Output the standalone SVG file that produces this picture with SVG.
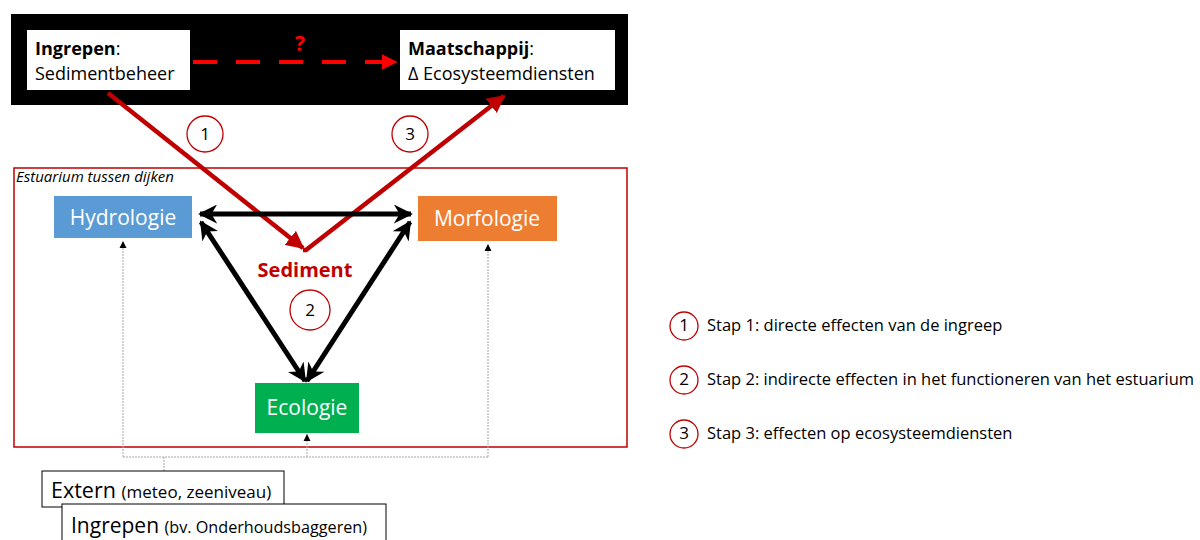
<svg xmlns="http://www.w3.org/2000/svg" width="1200" height="540" viewBox="0 0 1200 540">
<style>
text{font-family:"Open Sans","Liberation Sans",Arial,sans-serif}
.box{fill:#fff;stroke:#000;stroke-width:1}
.num{font-size:17px;fill:#000;text-anchor:middle}
.circ{fill:#fff;stroke:#c00000;stroke-width:1.3}
.leg{font-size:16.5px;fill:#000}
.node{font-size:21px;fill:#fff;text-anchor:middle}
.gray{fill:none;stroke:#a6a6a6;stroke-width:1;stroke-dasharray:2 1}
</style>
<defs>
<marker id="ahRed" viewBox="0 0 10 10" refX="9" refY="5" markerWidth="4" markerHeight="4" orient="auto" markerUnits="strokeWidth"><path d="M0,0L10,5L0,10z" fill="#c00000"/></marker>
<marker id="ahRedD" viewBox="0 0 10 10" refX="9" refY="5" markerWidth="4" markerHeight="4" orient="auto" markerUnits="strokeWidth"><path d="M0,0L10,5L0,10z" fill="#ff0000"/></marker>
<marker id="ahBlk" viewBox="0 0 10 10" refX="9" refY="5" markerWidth="3.8" markerHeight="3.8" orient="auto-start-reverse" markerUnits="strokeWidth"><path d="M0,0L10,5L0,10L3,5z" fill="#000"/></marker>
</defs>

<rect x="11" y="14" width="617" height="91" fill="#000"/>

<g id="estuarium">
<rect x="14" y="168" width="613" height="279" fill="none" stroke="#c00000" stroke-width="1.5"/>
<text x="16" y="182" font-size="15" font-style="italic" fill="#000">Estuarium tussen dijken</text>
</g>

<g id="connectors">
<path class="gray" d="M164,471V457M123,457H488M123,457V241M488,457V244M307,457V434"/>
<path d="M123,241l-3.5,7h7z M488,244l-3.5,7h7z M307,434l-3.5,7h7z" fill="#000"/>
<line x1="193" y1="62" x2="396" y2="62" stroke="#ff0000" stroke-width="4" stroke-dasharray="24 19" marker-end="url(#ahRedD)"/>
<polyline points="108,93 303,248" fill="none" stroke="#c00000" stroke-width="4.5" marker-end="url(#ahRed)"/>
<polyline points="303,250 306,250 504,96" fill="none" stroke="#c00000" stroke-width="4.5" marker-end="url(#ahRed)"/>
<line x1="200" y1="214" x2="411" y2="214" stroke="#000" stroke-width="5" marker-start="url(#ahBlk)" marker-end="url(#ahBlk)"/>
<line x1="201" y1="222" x2="305" y2="381" stroke="#000" stroke-width="5" marker-start="url(#ahBlk)" marker-end="url(#ahBlk)"/>
<line x1="410" y1="222" x2="307" y2="381" stroke="#000" stroke-width="5" marker-start="url(#ahBlk)" marker-end="url(#ahBlk)"/>
</g>

<text x="300" y="51" font-size="21" font-weight="bold" fill="#ff0000" text-anchor="middle">?</text>

<g id="ingrepen-top">
<rect x="27" y="30" width="163" height="60" fill="#fff"/>
<text x="35" y="55" font-size="18" fill="#000"><tspan font-weight="bold">Ingrepen</tspan>:</text>
<text x="35" y="80" font-size="18" fill="#000">Sedimentbeheer</text>
</g>

<g id="maatschappij">
<rect x="400" y="30" width="215" height="60" fill="#fff"/>
<text x="408" y="55" font-size="18" fill="#000"><tspan font-weight="bold">Maatschappij</tspan>:</text>
<text x="408" y="80" font-size="18" fill="#000">Δ Ecosysteemdiensten</text>
</g>

<g id="hydrologie">
<rect x="54" y="196" width="138" height="42" fill="#5b9bd5"/>
<text class="node" x="123" y="225">Hydrologie</text>
</g>
<g id="morfologie">
<rect x="418" y="196" width="139" height="45" fill="#ed7d31"/>
<text class="node" x="487" y="226">Morfologie</text>
</g>
<g id="ecologie">
<rect x="255" y="383" width="104" height="50" fill="#00b050"/>
<text class="node" x="307" y="415">Ecologie</text>
</g>

<g id="sediment">
<text x="305" y="277" font-size="20" font-weight="bold" fill="#c00000" text-anchor="middle">Sediment</text>
</g>

<g id="step1"><circle class="circ" cx="205" cy="134" r="18"/><text class="num" x="205" y="140">1</text></g>
<g id="step3"><circle class="circ" cx="410" cy="134" r="18"/><text class="num" x="410" y="140">3</text></g>
<g id="step2"><circle class="circ" cx="310" cy="310" r="20"/><text class="num" x="310" y="316">2</text></g>

<g id="extern">
<rect class="box" x="42" y="471" width="242" height="36"/>
<text x="51" y="498" font-size="21.5" fill="#000">Extern <tspan font-size="17">(meteo, zeeniveau)</tspan></text>
</g>
<g id="ingrepen-bottom">
<rect class="box" x="62" y="504" width="324" height="40"/>
<text x="71" y="533" font-size="21" fill="#000">Ingrepen <tspan font-size="16.2">(bv. Onderhoudsbaggeren)</tspan></text>
</g>

<g id="legend">
<circle class="circ" cx="684" cy="326" r="14"/><text class="num" x="684" y="331" font-size="15">1</text>
<text class="leg" x="707" y="331">Stap 1: directe effecten van de ingreep</text>
<circle class="circ" cx="684" cy="380" r="14"/><text class="num" x="684" y="385" font-size="15">2</text>
<text class="leg" x="707" y="385">Stap 2: indirecte effecten in het functioneren van het estuarium</text>
<circle class="circ" cx="684" cy="434" r="14"/><text class="num" x="684" y="439" font-size="15">3</text>
<text class="leg" x="707" y="439">Stap 3: effecten op ecosysteemdiensten</text>
</g>
</svg>
